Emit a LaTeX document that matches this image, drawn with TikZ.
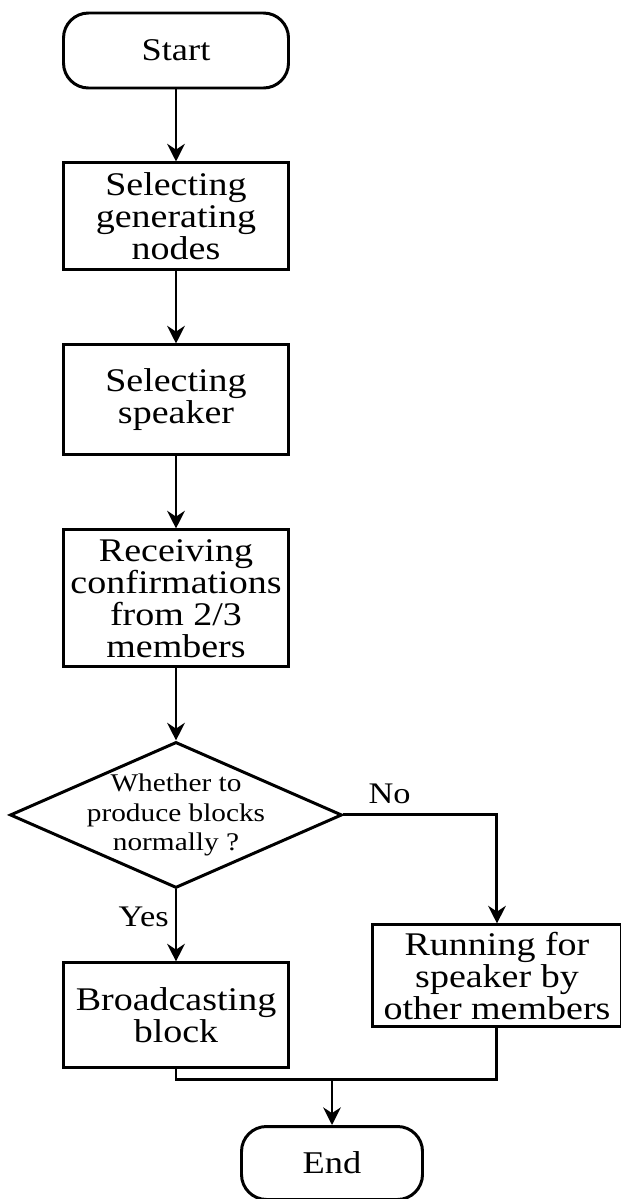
\documentclass[tikz,border=0pt]{standalone}
\usepackage{fontspec}
\setmainfont{Liberation Serif}[FakeStretch=1.15]
\usetikzlibrary{shapes.geometric, arrows.meta, positioning}
\tikzstyle{startstop} = [rectangle, rounded corners=0.5cm, minimum width=4.5cm, minimum height=1.5cm, text centered, draw=black, line width=1.7pt, font=\fontsize{18}{18}\selectfont]
\tikzstyle{process} = [rectangle, minimum width=4.5cm, inner sep=2pt, text centered, align=center, draw=black, line width=1.7pt, font=\fontsize{18.8}{18.2}\selectfont]
\tikzstyle{decision} = [diamond, aspect=2.27, minimum width=6.64cm, minimum height=2.92cm, inner sep=-0.15cm, align=center, draw=black, line width=1.7pt, font=\fontsize{14.5}{17}\selectfont]
\tikzstyle{arrow} = [line width=1.7pt,->,>={Stealth[length=10pt,width=10pt]}]
\tikzstyle{connector} = [line width=1.7pt]

\begin{document}
\begin{tikzpicture}[node distance=1.44cm]
\useasboundingbox (0,0) rectangle (12.42,-23.98);
\node (start) [startstop] at (3.52,-1.01) {Start};
\node (selgen) [process, below=of start, minimum height=2.14cm] {Selecting\\generating\\nodes};
\node (selspk) [process, below=of selgen, minimum height=2.2cm] {Selecting\\speaker};
\node (recv) [process, below=of selspk, minimum height=2.74cm] {Receiving\\confirmations\\from 2/3\\members};
\node (decide) [decision, below=of recv] {Whether to\\produce blocks\\normally ?};
\node (broad) [process, below=of decide, minimum height=2.1cm] {Broadcasting\\block};
\node (running) [process, right=1.63cm of broad, yshift=0.79cm, minimum width=4.96cm, minimum height=2.04cm] {Running for\\speaker by\\other members};
\coordinate (merge) at (6.64,-21.58);
\node (end) [startstop, below=0.92cm of merge, minimum width=3.62cm, minimum height=1.46cm] {End};

\draw [arrow] (start) -- (selgen);
\draw [arrow] (selgen) -- (selspk);
\draw [arrow] (selspk) -- (recv);
\draw [arrow] (recv) -- (decide);
\draw [arrow] (decide) -- node [left, pos=0.38] (yes) {\fontsize{17}{17}\selectfont Yes} (broad);
\draw [arrow] (decide.east) -| node [pos=0.15, above, yshift=2pt] (no) {\fontsize{17}{17}\selectfont No} (running.north);
\draw [connector] (broad.south) |- (merge) -| (running.south);
\draw [arrow] (merge) -- (end);
\end{tikzpicture}
\end{document}
